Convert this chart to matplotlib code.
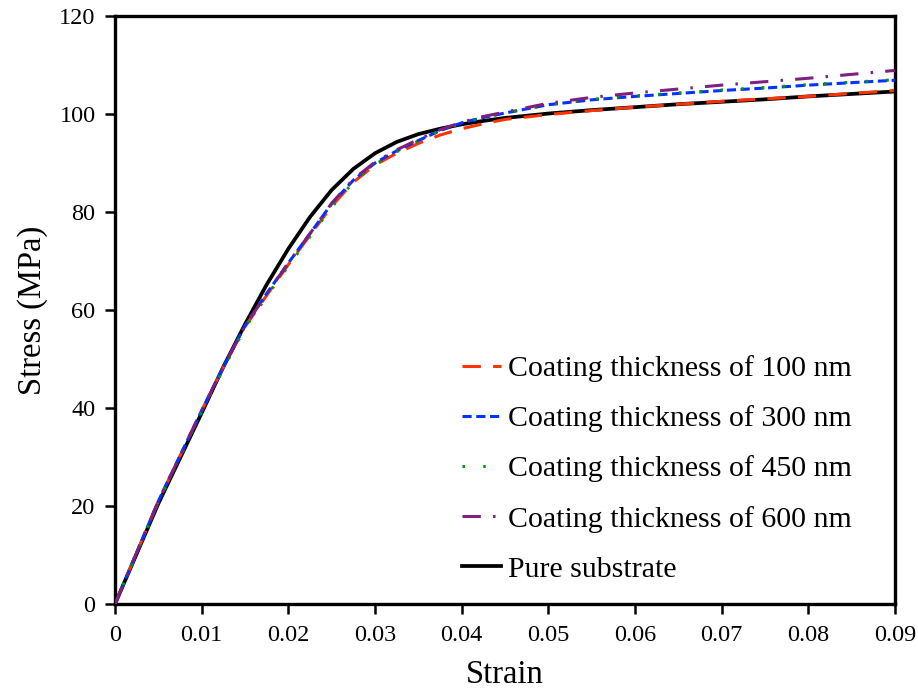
import numpy as np
import matplotlib
matplotlib.use("Agg")
import matplotlib.pyplot as plt

plt.rcParams['font.family'] = ['Liberation Serif', 'DejaVu Serif']

# strain values
strain = [0, 0.005, 0.01, 0.0125, 0.015, 0.0175, 0.02, 0.0225, 0.025, 0.0275, 0.03,
          0.0325, 0.035, 0.0375, 0.04, 0.0425, 0.045, 0.05, 0.055, 0.06, 0.065, 0.07,
          0.075, 0.08, 0.085, 0.09]

# stress (MPa) for each curve
stress_100 = [0, 21, 39.5, 48.3, 56.6, 63.0, 69.3, 75.3, 81.2, 86.1, 89.6,
              92.0, 94.0, 95.7, 97.0, 98.0, 98.9, 99.9, 100.7, 101.4, 102.0, 102.6,
              103.1, 103.6, 104.2, 104.8]
stress_300 = [0, 21, 39.5, 48.4, 56.8, 63.4, 69.6, 75.6, 81.7, 86.5, 90.0,
              92.5, 94.6, 96.6, 98.2, 99.3, 100.2, 101.9, 102.9, 103.6, 104.2, 104.8,
              105.3, 105.9, 106.4, 106.9]
stress_450 = [0, 20.8, 39.2, 48.0, 56.4, 62.8, 69.0, 75.0, 81.0, 86.1, 89.7,
              92.3, 94.5, 96.6, 98.1, 99.3, 100.2, 101.9, 103.0, 103.7, 104.3, 104.9,
              105.4, 106.0, 106.5, 107.0]
stress_600 = [0, 21, 39.5, 48.4, 56.8, 63.3, 69.6, 75.6, 81.8, 86.7, 90.2,
              92.7, 94.8, 96.8, 98.3, 99.5, 100.4, 102.2, 103.4, 104.3, 105.1, 105.9,
              106.6, 107.3, 108.1, 108.9]
stress_pure = [0, 20.5, 39, 48.4, 57.1, 65.2, 72.5, 79.0, 84.5, 88.8, 92.0,
               94.3, 95.9, 97.0, 97.9, 98.6, 99.2, 100.1, 100.8, 101.4, 102.0, 102.5,
               103.0, 103.6, 104.1, 104.6]

labels = ["Coating thickness of 100 nm", "Coating thickness of 300 nm",
          "Coating thickness of 450 nm", "Coating thickness of 600 nm",
          "Pure substrate"]

fig = plt.figure(figsize=(9.18, 6.91), dpi=100)
ax = fig.add_axes([0.1253, 0.1259, 0.8497, 0.8509])

ax.plot(strain, stress_pure, color='black', lw=2.7, zorder=1)
l1, = ax.plot(strain, stress_100, color='#FF3300', lw=2.2, dashes=(6, 4), zorder=2)
l2, = ax.plot(strain, stress_300, color='#0033FF', lw=2.2, dashes=(3, 1.5), zorder=3)
l3, = ax.plot(strain, stress_450, color='#009900', lw=2.2, dashes=(0.8, 6), zorder=4)
l4, = ax.plot(strain, stress_600, color='#7F1F7F', lw=2.2, dashes=(6, 4, 0.8, 4), zorder=5)
l5, = ax.plot([], [], color='black', lw=2.7)

ax.set_xlim(0, 0.09)
ax.set_ylim(0, 120)
ax.set_xticks(np.arange(0, 0.0901, 0.01))
ax.set_xticklabels(["0", "0.01", "0.02", "0.03", "0.04", "0.05", "0.06", "0.07", "0.08", "0.09"])
ax.set_yticks(range(0, 121, 20))
ax.tick_params(direction='out', length=7, width=1.8, labelsize=17.5, pad=8)
ax.tick_params(axis='y', pad=7)
for s in ax.spines.values():
    s.set_linewidth(2.4)

ax.set_xlabel("Strain", fontsize=23.5, labelpad=10)
ax.set_ylabel("Stress (MPa)", fontsize=23.5, labelpad=8)

ax.legend([l1, l2, l3, l4, l5], labels, loc='upper left',
          bbox_to_anchor=(462 / 918, 1 - 355 / 691), bbox_transform=fig.transFigure,
          frameon=False, fontsize=21.5, handlelength=1.3, handletextpad=0.25,
          labelspacing=0.78, borderpad=0, borderaxespad=0)

fig.savefig("out.png", dpi=100)
